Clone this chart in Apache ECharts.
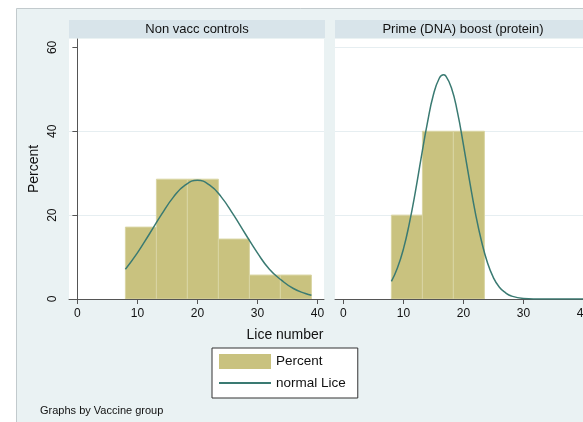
<!DOCTYPE html>
<html>
<head>
<meta charset="utf-8">
<script src="https://cdn.jsdelivr.net/npm/echarts@6/dist/echarts.min.js"></script>
<style>
html,body{margin:0;padding:0;background:#fff;}
#c{width:583px;height:422px;}
</style>
</head>
<body>
<div id="c"></div>
<script>
// ---- data ----
const panelTitles = ['Non vacc controls', 'Prime (DNA) boost (protein)'];
const binEdges = [8, 13.17, 18.33, 23.5, 28.67, 33.83, 39];
const pctControls = [17.14, 28.57, 28.57, 14.29, 5.71, 5.71];
const pctPrimeBoost = [20, 40, 40, 0, 0, 0];
const curveX_controls = [8, 10, 12, 14, 16, 18, 20, 22, 24, 26, 28, 30, 32, 34, 36, 38, 39];
const curveY_controls = [7.1, 11.0, 15.5, 20.1, 24.3, 27.2, 28.3, 27.2, 24.3, 20.1, 15.5, 11.0, 7.1, 4.5, 2.5, 1.3, 0.9];
const curveX_prime = [8, 9, 10, 11, 12, 13, 14, 15, 16, 16.67, 17, 18, 19, 20, 21, 22, 23, 24, 25, 26, 27, 28, 30, 32, 35, 40];
const curveY_prime = [4.2, 7.4, 11.9, 18.1, 25.6, 34.0, 42.0, 48.7, 52.7, 53.5, 53.3, 50.4, 44.6, 36.8, 28.4, 20.5, 13.9, 8.7, 5.1, 2.8, 1.5, 0.7, 0.13, 0.02, 0, 0];
const xTicks = [0, 10, 20, 30, 40];
const yTicks = [0, 20, 40, 60];
const xAxisTitle = 'Lice number';
const yAxisTitle = 'Percent';
const note = 'Graphs by Vaccine group';
const legendNames = ['Percent', 'normal Lice'];

// ---- styles ----
const FONT = 'Liberation Sans, Arial, Helvetica, sans-serif';
const BAR = '#c9c27f';
const BAR_EDGE = '#d9d5a3';
const LINE = '#3a7a72';
const AXIS = '#555';
const GRIDLINE = '#e6eef1';

function bins(pcts) {
  const out = [];
  for (let i = 0; i < pcts.length; i++) {
    if (pcts[i] > 0) out.push([binEdges[i], binEdges[i + 1], pcts[i]]);
  }
  return out;
}
function pairs(xs, ys) { return xs.map((x, i) => [x, ys[i]]); }

function renderBin(params, api) {
  const p0 = api.coord([api.value(0), api.value(2)]);
  const p1 = api.coord([api.value(1), 0]);
  return {
    type: 'rect',
    shape: { x: p0[0], y: p0[1], width: p1[0] - p0[0], height: p1[1] - p0[1] },
    style: { fill: BAR, stroke: BAR_EDGE, lineWidth: 1 }
  };
}

const grids = [
  { left: 69, top: 39, width: 255, height: 260 },
  { left: 335, top: 39, width: 255, height: 260 }
];

const xAxisBase = (gi) => ({
  type: 'value', gridIndex: gi, min: -1.4, max: 41.1,
  axisLine: { show: true, lineStyle: { color: AXIS, width: 1 } },
  axisTick: { show: true, length: 5, lineStyle: { color: AXIS }, customValues: xTicks },
  axisLabel: { customValues: xTicks, color: '#111', fontSize: 12, fontFamily: FONT, margin: 9, hideOverlap: false },
  splitLine: { show: false }
});

const option = {
  animation: false,
  backgroundColor: '#fff',
  graphic: [
    { type: 'rect', z: -10, shape: { x: 16.5, y: 8.5, width: 600, height: 440 },
      style: { fill: '#eaf2f3', stroke: '#c2cacd', lineWidth: 1 } },
    { type: 'rect', z: -5, shape: { x: 69, y: 20, width: 256, height: 18 }, style: { fill: '#d8e4ea' } },
    { type: 'rect', z: -5, shape: { x: 335, y: 20, width: 256, height: 18 }, style: { fill: '#d8e4ea' } },
    { type: 'text', x: 197, y: 29, style: { text: panelTitles[0], fill: '#111', font: '13px ' + FONT, align: 'center', verticalAlign: 'middle' } },
    { type: 'text', x: 463, y: 29, style: { text: panelTitles[1], fill: '#111', font: '13px ' + FONT, align: 'center', verticalAlign: 'middle' } },
    { type: 'text', x: 285, y: 335, style: { text: xAxisTitle, fill: '#111', font: '14px ' + FONT, align: 'center', verticalAlign: 'middle' } },
    { type: 'text', x: 40, y: 411, style: { text: note, fill: '#111', font: '11px ' + FONT, align: 'left', verticalAlign: 'middle' } }
  ],
  grid: grids.map(g => Object.assign({ show: true, backgroundColor: '#fff', borderWidth: 0, containLabel: false, outerBoundsMode: 'none' }, g)),
  xAxis: [xAxisBase(0), xAxisBase(1)],
  yAxis: [
    {
      type: 'value', gridIndex: 0, min: 0, max: 62,
      name: yAxisTitle, nameLocation: 'middle', nameGap: 28, nameRotate: 90,
      nameTextStyle: { fontSize: 14, color: '#111', fontFamily: FONT },
      axisLine: { show: true, lineStyle: { color: AXIS, width: 1 } },
      axisTick: { show: true, length: 5, lineStyle: { color: AXIS }, customValues: yTicks },
      axisLabel: { customValues: yTicks, rotate: 90, color: '#111', fontSize: 12, fontFamily: FONT, margin: 10 },
      splitLine: { show: true, showMinLine: false, showMaxLine: false, lineStyle: { color: GRIDLINE, width: 1 } },
      interval: 20
    },
    {
      type: 'value', gridIndex: 1, min: 0, max: 62, interval: 20,
      axisLine: { show: false }, axisTick: { show: false }, axisLabel: { show: false },
      splitLine: { show: true, showMinLine: false, showMaxLine: false, lineStyle: { color: GRIDLINE, width: 1 } }
    }
  ],
  legend: {
    orient: 'vertical', left: 212, top: 348,
    padding: [6, 12, 8, 6], itemWidth: 52, itemHeight: 15, itemGap: 7,
    backgroundColor: '#fff', borderColor: '#333', borderWidth: 1, borderRadius: 0,
    textStyle: { fontSize: 13.5, color: '#111', fontFamily: FONT },
    data: [
      { name: legendNames[0], icon: 'rect' },
      { name: legendNames[1], itemStyle: { color: 'rgba(0,0,0,0)', borderWidth: 0, opacity: 0 } }
    ]
  },
  series: [
    { name: legendNames[0], type: 'custom', xAxisIndex: 0, yAxisIndex: 0, renderItem: renderBin,
      itemStyle: { color: BAR }, encode: { x: [0, 1], y: 2 }, data: bins(pctControls), clip: true },
    { name: legendNames[0], type: 'custom', xAxisIndex: 1, yAxisIndex: 1, renderItem: renderBin,
      itemStyle: { color: BAR }, encode: { x: [0, 1], y: 2 }, data: bins(pctPrimeBoost), clip: true },
    { name: legendNames[1], type: 'line', xAxisIndex: 0, yAxisIndex: 0, smooth: true, symbol: 'none',
      lineStyle: { color: LINE, width: 1.5 }, itemStyle: { color: LINE }, data: pairs(curveX_controls, curveY_controls), z: 5 },
    { name: legendNames[1], type: 'line', xAxisIndex: 1, yAxisIndex: 1, smooth: true, symbol: 'none', clip: true,
      lineStyle: { color: LINE, width: 1.5 }, itemStyle: { color: LINE }, data: pairs(curveX_prime, curveY_prime), z: 5 }
  ]
};

const chart = echarts.init(document.getElementById('c'), null, { renderer: 'canvas' });
chart.setOption(option);
</script>
</body>
</html>
